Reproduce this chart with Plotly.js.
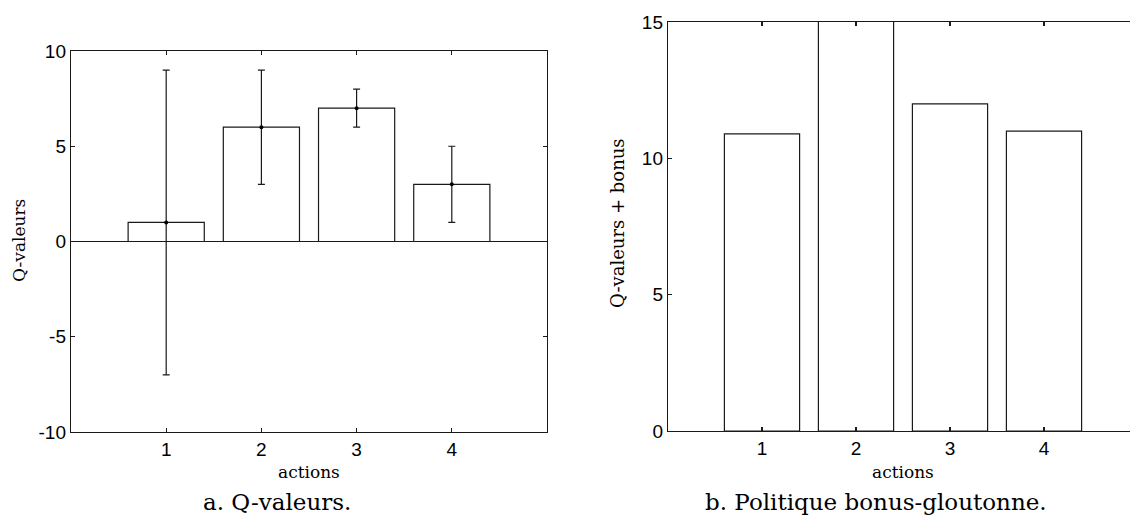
<!DOCTYPE html>
<html>
<head>
<meta charset="utf-8">
<script src="https://cdn.plot.ly/plotly-3.0.1.min.js"></script>
<style>
  html, body { margin: 0; padding: 0; background: #fff; overflow: hidden; }
  #chart { width: 1130px; height: 519px; }
</style>
</head>
<body>
<div id="chart"></div>
<script>
// ---- data ----
const actions = [1, 2, 3, 4];
const tickLabels = ['1', '2', '3', '4'];
const qValues = [1, 6, 7, 3];
const qErrPlus = [8, 3, 1, 2];
const qErrMinus = [8, 3, 1, 2];
const qBonus = [10.9, 16, 12, 11];
const yTicksA = [-10, -5, 0, 5, 10];
const yTickTextA = ['-10', '-5', '0', '5', '10'];
const yTicksB = [0, 5, 10, 15];

const captionA = 'a. Q-valeurs.';
const captionB = 'b. Politique bonus-gloutonne.';
const xTitle = 'actions';
const yTitleA = 'Q-valeurs';
const yTitleB = 'Q-valeurs + bonus';

const W = 1130, H = 519;
const px = v => v / W;
const py = v => 1 - v / H;

const lineCol = '#1a1a1a';
const tickFont = { family: "'Liberation Sans', Arial, sans-serif", size: 19, color: '#000' };
const serif = "'DejaVu Serif', serif";

const traces = [
  {
    type: 'bar', x: actions, y: qValues, width: 0.8,
    marker: { color: '#ffffff', line: { color: lineCol, width: 1.2 } },
    xaxis: 'x', yaxis: 'y', hoverinfo: 'skip', showlegend: false
  },
  {
    type: 'scatter', mode: 'markers', x: actions, y: qValues,
    marker: { color: '#000', size: 4 },
    error_y: { type: 'data', symmetric: false, array: qErrPlus, arrayminus: qErrMinus,
               color: lineCol, thickness: 1.2, width: 3.5 },
    xaxis: 'x', yaxis: 'y', hoverinfo: 'skip', showlegend: false
  },
  {
    type: 'bar', x: actions, y: qBonus, width: 0.8,
    marker: { color: '#ffffff', line: { color: lineCol, width: 1.2 } },
    xaxis: 'x2', yaxis: 'y2', hoverinfo: 'skip', showlegend: false
  }
];

const axBase = {
  showgrid: false, showline: true, linecolor: lineCol, linewidth: 1.2,
  ticks: 'inside', ticklen: 4, tickcolor: lineCol, tickwidth: 1.2,
  tickfont: tickFont, zeroline: false, fixedrange: true
};

function label(text, x, y, size, angle) {
  return { text: text, xref: 'paper', yref: 'paper', x: px(x), y: py(y),
           xanchor: 'center', yanchor: 'middle', textangle: angle || 0,
           showarrow: false, font: { family: serif, size: size, color: '#000' } };
}

const layout = {
  width: W, height: H,
  margin: { l: 0, r: 0, t: 0, b: 0 },
  paper_bgcolor: '#fff', plot_bgcolor: '#fff',
  bargap: 0,
  xaxis: Object.assign({}, axBase, {
    domain: [px(71), px(547)], range: [0, 5], anchor: 'y',
    tickvals: actions, ticktext: tickLabels, mirror: 'ticks'
  }),
  yaxis: Object.assign({}, axBase, {
    domain: [py(432), py(51)], range: [-10, 10], anchor: 'x',
    tickvals: yTicksA, ticktext: yTickTextA, mirror: 'ticks',
    zeroline: true, zerolinecolor: lineCol, zerolinewidth: 1.2
  }),
  xaxis2: Object.assign({}, axBase, {
    domain: [px(668), 1], range: [0, 462 / 94], anchor: 'y2',
    tickvals: actions, ticktext: tickLabels, mirror: 'ticks'
  }),
  yaxis2: Object.assign({}, axBase, {
    domain: [py(431), py(22)], range: [0, 15], anchor: 'x2',
    tickvals: yTicksB, mirror: false
  }),
  annotations: [
    label(xTitle, 309, 472, 17),
    label(xTitle, 903, 472, 17),
    label(yTitleA, 19, 241, 17, -90),
    label(yTitleB, 617, 223, 18, -90),
    label(captionA, 277, 502, 23),
    label(captionB, 876, 502, 23)
  ]
};

Plotly.newPlot('chart', traces, layout, { displayModeBar: false, staticPlot: true });
</script>
</body>
</html>
